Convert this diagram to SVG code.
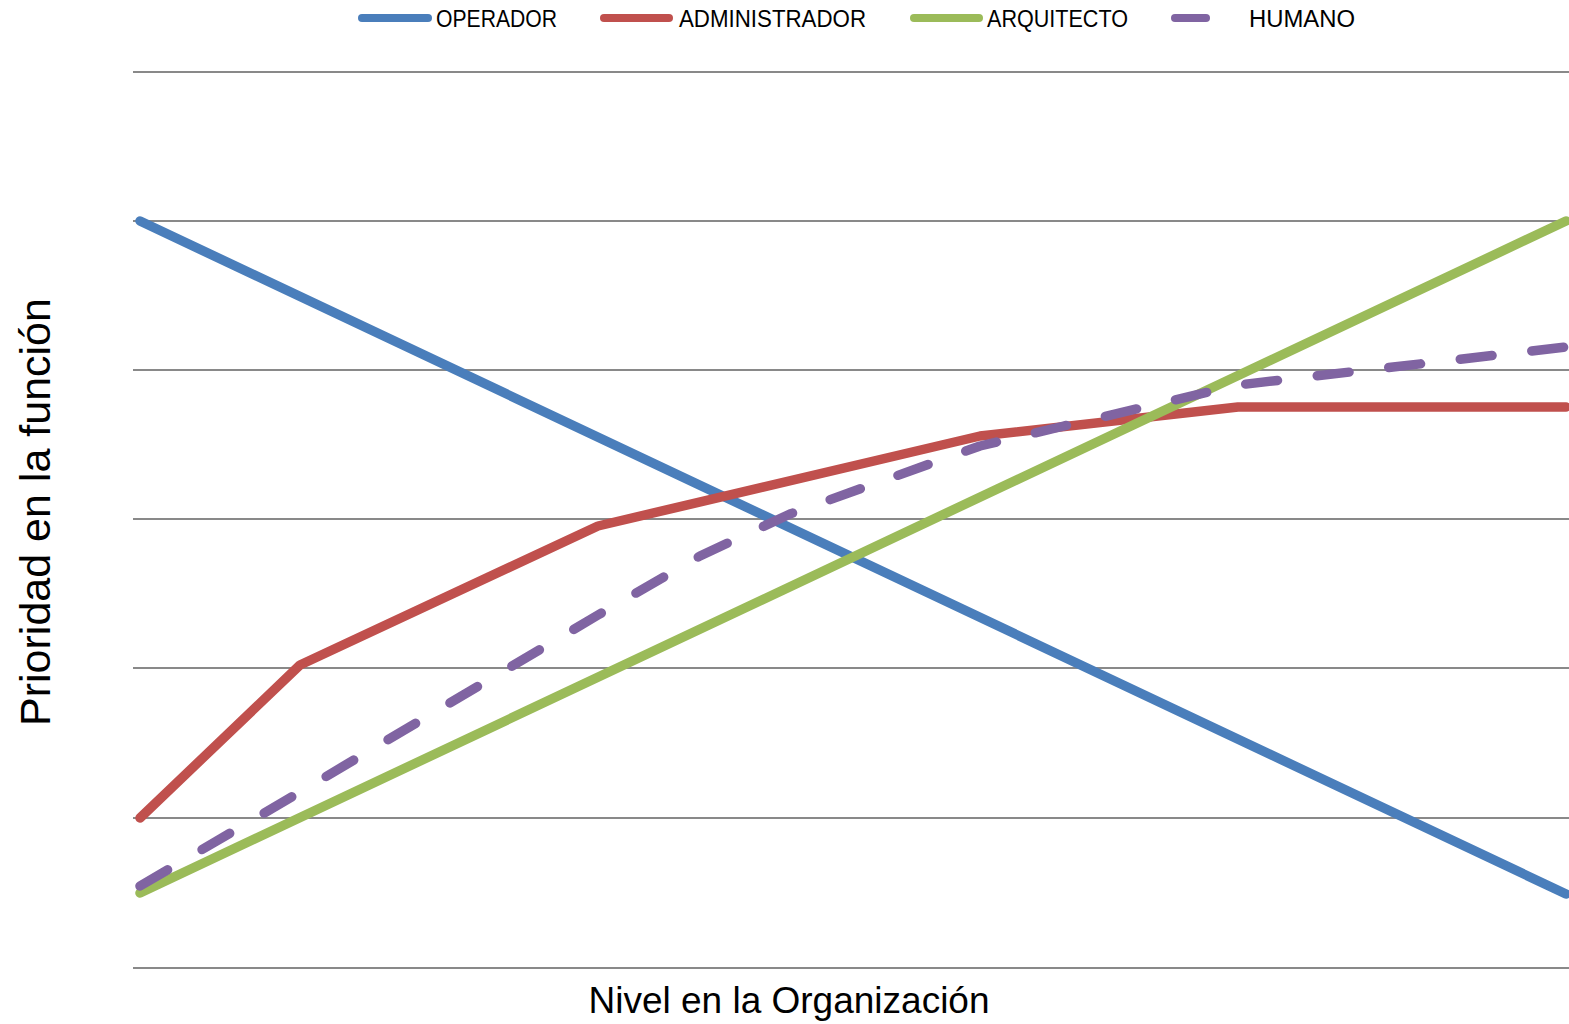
<svg xmlns="http://www.w3.org/2000/svg" width="1569" height="1024" viewBox="0 0 1569 1024">
<style>
.grid{stroke:#898989;stroke-width:2;fill:none}
.s{fill:none;stroke-width:9.5;stroke-linecap:round;stroke-linejoin:round}
.op{stroke:#4A7EBB}
.ad{stroke:#C0504D}
.ar{stroke:#9BBB59}
.hu{stroke:#8064A2;stroke-dasharray:32 40}
.lg{fill:none;stroke-width:8;stroke-linecap:round}
.lt{font-family:"Liberation Sans",Arial,sans-serif;font-size:23px;fill:#000}
.ax{font-family:"Liberation Sans",Arial,sans-serif;fill:#000}
</style>
<rect width="1569" height="1024" fill="#fff"/>
<g id="grid">
<line class="grid" x1="133" y1="72" x2="1569" y2="72"/>
<line class="grid" x1="133" y1="221" x2="1569" y2="221"/>
<line class="grid" x1="133" y1="370" x2="1569" y2="370"/>
<line class="grid" x1="133" y1="519" x2="1569" y2="519"/>
<line class="grid" x1="133" y1="668" x2="1569" y2="668"/>
<line class="grid" x1="133" y1="818" x2="1569" y2="818"/>
<line class="grid" x1="133" y1="968" x2="1569" y2="968"/>
</g>
<g id="series">
<polyline id="operador" class="s op" points="140,221 1566,894"/>
<polyline id="administrador" class="s ad" points="140,818 300,665 598,526 980,436 1238,407 1566,407"/>
<polyline id="arquitecto" class="s ar" points="140,893 1566,221"/>
<polyline id="humano" class="s hu" points="140,886 300,792 598,615 700,556 790,514 980,446 1060,427 1238,385 1566,347"/>
</g>
<g id="legend">
<line class="lg op" x1="362" y1="18" x2="428" y2="18"/>
<text class="lt" x="436" y="27" textLength="121" lengthAdjust="spacingAndGlyphs">OPERADOR</text>
<line class="lg ad" x1="604" y1="18" x2="669" y2="18"/>
<text class="lt" x="679" y="27" textLength="187" lengthAdjust="spacingAndGlyphs">ADMINISTRADOR</text>
<line class="lg ar" x1="914" y1="18" x2="979" y2="18"/>
<text class="lt" x="987" y="27" textLength="141" lengthAdjust="spacingAndGlyphs">ARQUITECTO</text>
<line class="lg" stroke="#8064A2" x1="1175" y1="18" x2="1206" y2="18"/>
<text class="lt" x="1249" y="27" textLength="106" lengthAdjust="spacingAndGlyphs">HUMANO</text>
</g>
<g id="axis-titles">
<text class="ax" x="789" y="1013" font-size="37" text-anchor="middle">Nivel en la Organización</text>
<text class="ax" transform="translate(50,512) rotate(-90)" x="0" y="0" font-size="43" text-anchor="middle">Prioridad en la función</text>
</g>
</svg>
